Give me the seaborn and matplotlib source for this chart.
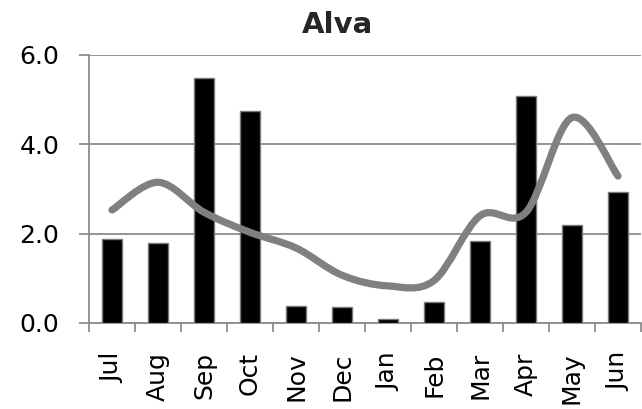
import numpy as np
import seaborn as sns
import matplotlib
matplotlib.use("Agg")
import matplotlib.pyplot as plt
from matplotlib.path import Path
from matplotlib.patches import PathPatch

# Monthly rainfall (bars) and smoothed long-term trend (line)
months = ["Jul", "Aug", "Sep", "Oct", "Nov", "Dec",
          "Jan", "Feb", "Mar", "Apr", "May", "Jun"]
rainfall = [1.87, 1.79, 5.49, 4.75, 0.39, 0.36, 0.09, 0.46, 1.84, 5.08, 2.20, 2.93]
trend = [2.53, 3.15, 2.48, 2.03, 1.68, 1.07, 0.83, 0.95, 2.40, 2.48, 4.60, 3.29]
y_ticks = [0.0, 2.0, 4.0, 6.0]

GREY = "#808080"
AXGREY = "#8c8c8c"

sns.set_theme(style="white")
plt.rcParams["font.family"] = ["DejaVu Sans"]

fig = plt.figure(figsize=(6.42, 4.09), dpi=100)
ax = fig.add_axes([89 / 642, 1 - 323 / 409, (641 - 89) / 642, (323 - 55) / 409])

sns.barplot(x=months, y=rainfall, color="black", saturation=1, width=0.43,
            edgecolor="#7a7a7a", linewidth=1.0, ax=ax, zorder=3)

# Smoothed line: cubic Bezier segments through each point (Catmull-Rom style)
xs = np.arange(len(trend), dtype=float)
ys = np.asarray(trend, dtype=float)
px = np.concatenate([[xs[0]], xs, [xs[-1]]])
py = np.concatenate([[ys[0]], ys, [ys[-1]]])
verts = [(xs[0], ys[0])]
codes = [Path.MOVETO]
for i in range(1, len(xs)):
    p0 = np.array([px[i - 1], py[i - 1]])
    p1 = np.array([px[i], py[i]])
    p2 = np.array([px[i + 1], py[i + 1]])
    p3 = np.array([px[i + 2], py[i + 2]])
    c1 = p1 + (p2 - p0) / 6.0
    c2 = p2 - (p3 - p1) / 6.0
    verts += [tuple(c1), tuple(c2), tuple(p2)]
    codes += [Path.CURVE4] * 3
ax.add_patch(PathPatch(Path(verts, codes), facecolor="none", edgecolor=GREY,
                       lw=5.2, capstyle="round", joinstyle="round", zorder=4))

ax.set_xlim(-0.5, len(months) - 0.5)
ax.set_ylim(0, 6.0)
ax.set_yticks(y_ticks)
ax.set_yticklabels([f"{v:.1f}" for v in y_ticks], fontsize=18)
ax.set_xticks(range(len(months)))
ax.set_xticklabels(months, rotation=90, fontsize=18, va="top", ha="center")
ax.set_xticks(np.arange(-0.5, len(months), 1.0), minor=True)
ax.set_xlabel("")
ax.set_ylabel("")

ax.yaxis.grid(True, color=AXGREY, lw=1.3, zorder=0)
ax.xaxis.grid(False)
ax.set_axisbelow(True)
for side in ["top", "right"]:
    ax.spines[side].set_visible(False)
for side in ["left", "bottom"]:
    ax.spines[side].set_color(AXGREY)
    ax.spines[side].set_linewidth(1.3)

ax.tick_params(axis="y", which="major", left=True, length=7.5, width=1.3,
               color=AXGREY, pad=14, labelcolor="black")
ax.tick_params(axis="x", which="major", bottom=False, length=0, pad=21,
               labelcolor="black")
ax.tick_params(axis="x", which="minor", bottom=True, length=6.5, width=1.3,
               color=AXGREY)

fig.text(337 / 642, 1 - 33 / 409, "Alva", ha="center", va="baseline",
         fontsize=21, fontweight="bold")

fig.savefig("out.png", dpi=100)
